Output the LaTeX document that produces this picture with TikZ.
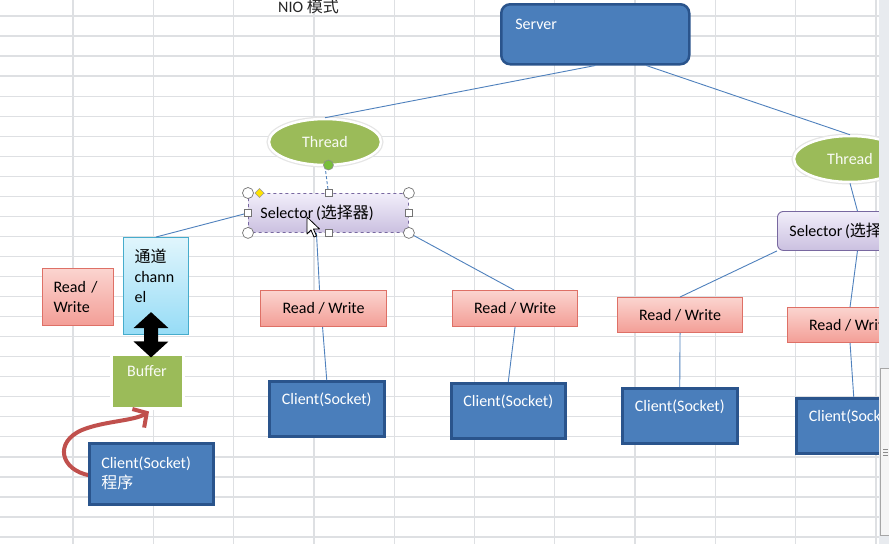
\documentclass[tikz,border=0pt]{standalone}
\usepackage{fontspec}
\setmainfont{Carlito}
\newfontfamily\cjk{Noto Sans CJK SC}
\usetikzlibrary{shapes.geometric,arrows.meta,calc,shadows}

\definecolor{gridgray}{RGB}{222,224,227}
\definecolor{boxblue}{RGB}{74,126,187}
\definecolor{boxblueline}{RGB}{42,84,140}
\definecolor{linkblue}{RGB}{79,129,189}
\definecolor{pinktop}{RGB}{251,212,207}
\definecolor{pinkbot}{RGB}{243,158,150}
\definecolor{pinkline}{RGB}{222,112,102}
\definecolor{cyantop}{RGB}{224,245,252}
\definecolor{cyanbot}{RGB}{150,220,246}
\definecolor{cyanline}{RGB}{70,172,204}
\definecolor{lilactop}{RGB}{242,238,250}
\definecolor{lilacbot}{RGB}{202,192,224}
\definecolor{lilacline}{RGB}{120,104,160}
\definecolor{olive}{RGB}{155,187,89}
\definecolor{arrowred}{RGB}{192,80,77}
\definecolor{sbgray}{RGB}{232,235,239}
\definecolor{handlegreen}{RGB}{120,190,60}

\begin{document}
\begin{tikzpicture}[x=1pt,y=-1pt,
  font=\fontsize{16}{20}\selectfont,
  gridline/.style={draw=gridgray, line width=1.3pt},
  link/.style={draw=linkblue, line width=0.9pt},
  clientbox/.style={draw=boxblueline, line width=2.5pt, fill=boxblue, text=white,
    align=center, anchor=north west, inner sep=0pt},
  rwbox/.style={draw=pinkline, line width=1.1pt, top color=pinktop, bottom color=pinkbot,
    text=black, anchor=north west, inner sep=0pt},
  selbox/.style={draw=lilacline, line width=0.9pt, top color=lilactop, bottom color=lilacbot,
    rounded corners=6pt, text=black, anchor=north west, inner xsep=12pt, inner ysep=0pt,
    text width=136pt, align=left, minimum height=39pt},
  threadnode/.style={ellipse, fill=olive, draw=white, line width=2.5pt,
    preaction={draw=black!10, line width=5pt},
    text=white!94!olive, inner sep=0pt, minimum width=112pt, minimum height=46pt},
  handle/.style={draw=black!55, fill=white, line width=0.7pt},
  dblarrow/.style={draw=black, line width=14pt,
    {Triangle[length=16pt,width=34pt]}-{Triangle[length=16pt,width=34pt]}},
  curvearrow/.style={draw=arrowred, line width=4pt, line cap=round,
    -{Straight Barb[length=10pt,width=22pt,line width=4pt]}}
]
\useasboundingbox (0,0) rectangle (889,544);
\fill[white] (0,0) rectangle (889,544);

\begin{scope}
\clip (0,0) rectangle (879,544);

% spreadsheet grid
\foreach \i in {0,...,10}
  \draw[gridline] ({73+80.3*\i},0) -- ({73+80.3*\i},544);
\foreach \j in {0,...,26}
  \draw[gridline] (0,{16+20.04*\j}) -- (879,{16+20.04*\j});

% title
\node[anchor=base west, text=black!85, inner sep=0pt] (title) at (278,12) {NIO {\cjk 模式}};

% server and threads
\node[draw=boxblueline, line width=2.5pt, fill=boxblue, rounded corners=9pt, text=white,
  anchor=north west, inner xsep=14pt, inner ysep=0pt, text width=160pt, align=left,
  minimum height=60pt] (server) at (500,3) {Server\\\mbox{}};
\node[threadnode] (th1) at (325,142) {Thread};
\node[threadnode] (th2) at (850,159) {Thread};

% selectors
\node[selbox, dashed] (sel1) at (248,193) {Selector\,({\cjk 选择器})};
\node[selbox] (sel2) at (777,211) {Selector\,({\cjk 选择器})};

% left column: channel, buffer and client program
\node[rwbox, minimum width=71pt, minimum height=57pt, align=left, inner xsep=11pt,
  text width=49pt] (rw0) at (42,268) {Read /\\Write};
\node[draw=cyanline, line width=1.1pt, top color=cyantop, bottom color=cyanbot,
  anchor=north west, inner xsep=11pt, inner ysep=0pt, text width=43pt, align=left,
  minimum height=97pt] (chan) at (123,237) {{\cjk 通道}\\chann\\el\\\mbox{}};
\node[fill=olive, draw=white, line width=3pt, anchor=north west, inner sep=0pt,
  minimum width=72pt, minimum height=54pt, text=white!94!olive, align=center,
  drop shadow={opacity=0.35, shadow xshift=1.5pt, shadow yshift=-1.5pt}]
  (buffer) at (109.5,352.5) {Buffer\\\mbox{}};

\draw[curvearrow] ($(buffer.south)+(-57,66)$) .. controls (60,470) and (54,442) .. (82,430)
  .. controls (104,421) and (134,421) .. ($(buffer.south)+(2,2)$);
\node[clientbox, minimum width=124pt, minimum height=61pt, align=left, inner xsep=12pt,
  text width=100pt] (client0) at (88,442) {Client(Socket)\\{\cjk 程序}};

\draw[dblarrow] ($(chan.south)+(-5,-23)$) -- ($(buffer.north)+(4,5)$);

% read / write boxes
\node[rwbox, minimum width=126pt, minimum height=36pt] (rw1) at (260,290) {Read / Write};
\node[rwbox, minimum width=125pt, minimum height=36pt] (rw2) at (452,290) {Read / Write};
\node[rwbox, minimum width=125pt, minimum height=35pt] (rw3) at (617,297) {Read / Write};
\node[rwbox, minimum width=125pt, minimum height=35pt] (rw4) at (787,307) {Read / Write};

% client sockets
\node[clientbox, minimum width=115pt, minimum height=55pt] (client1) at (268,380) {Client(Socket)\\\mbox{}};
\node[clientbox, minimum width=114pt, minimum height=55pt] (client2) at (450,382) {Client(Socket)\\\mbox{}};
\node[clientbox, minimum width=115pt, minimum height=55pt] (client3) at (621,387) {Client(Socket)\\\mbox{}};
\node[clientbox, minimum width=115pt, minimum height=55pt] (client4) at (795,397) {Client(Socket)\\\mbox{}};

% connectors
\draw[link] (server.south) -- (th1.north);
\draw[link] ([xshift=51pt]server.south) -- (th2.north);
\draw[link, densely dashed] (th1.south) -- (sel1.north);
\draw[link] (th2.south) -- (sel2.north);
\draw[link] (sel1.west) -- (chan.north);
\draw[link] ([xshift=-12pt]sel1.south) -- ([xshift=-4pt]rw1.north);
\draw[link] ([xshift=-1pt]rw1.south) -- (client1.north);
\draw[link] (sel1.south east) -- ([xshift=-1pt]rw2.north);
\draw[link] (rw2.south) -- (client2.north);
\draw[link] (sel2.south west) -- (rw3.north);
\draw[link] (rw3.south) -- (client3.north);
\draw[link] (sel2.south) -- (rw4.north);
\draw[link] (rw4.south) -- (client4.north);

% selection handles on the first selector
\fill[handlegreen, draw=black!45, line width=0.6pt] ([yshift=28pt]sel1.north) circle (5);
\foreach \a in {north west, north east, south west, south east}
  \draw[handle] (sel1.\a) circle (5.5);
\foreach \a in {north, south, west, east}
  \draw[handle] ($(sel1.\a)+(-3.5,-3.5)$) rectangle ++(7,7);
\fill[yellow!85!orange, draw=black!40, line width=0.5pt]
  ($(sel1.north west)+(7,0)$) -- ++(4.5,-4.5) -- ++(4.5,4.5) -- ++(-4.5,4.5) -- cycle;

% mouse pointer
\draw[fill=white, draw=black, line width=0.8pt, line join=round]
  (307,217) -- ++(0,17) -- ++(4,-4) -- ++(3,7) -- ++(2.5,-1) -- ++(-3,-7) -- ++(6,0) -- cycle;
\end{scope}

% window scroll bar
\fill[sbgray] (879,0) rectangle (889,544);
\draw[fill=white!96!black, draw=black!35, line width=0.6pt] (880.5,368) rectangle (889.5,535);
\foreach \g in {449,452,455}
  \draw[black!45, line width=0.6pt] (883,\g) -- (888,\g);
\end{tikzpicture}
\end{document}
